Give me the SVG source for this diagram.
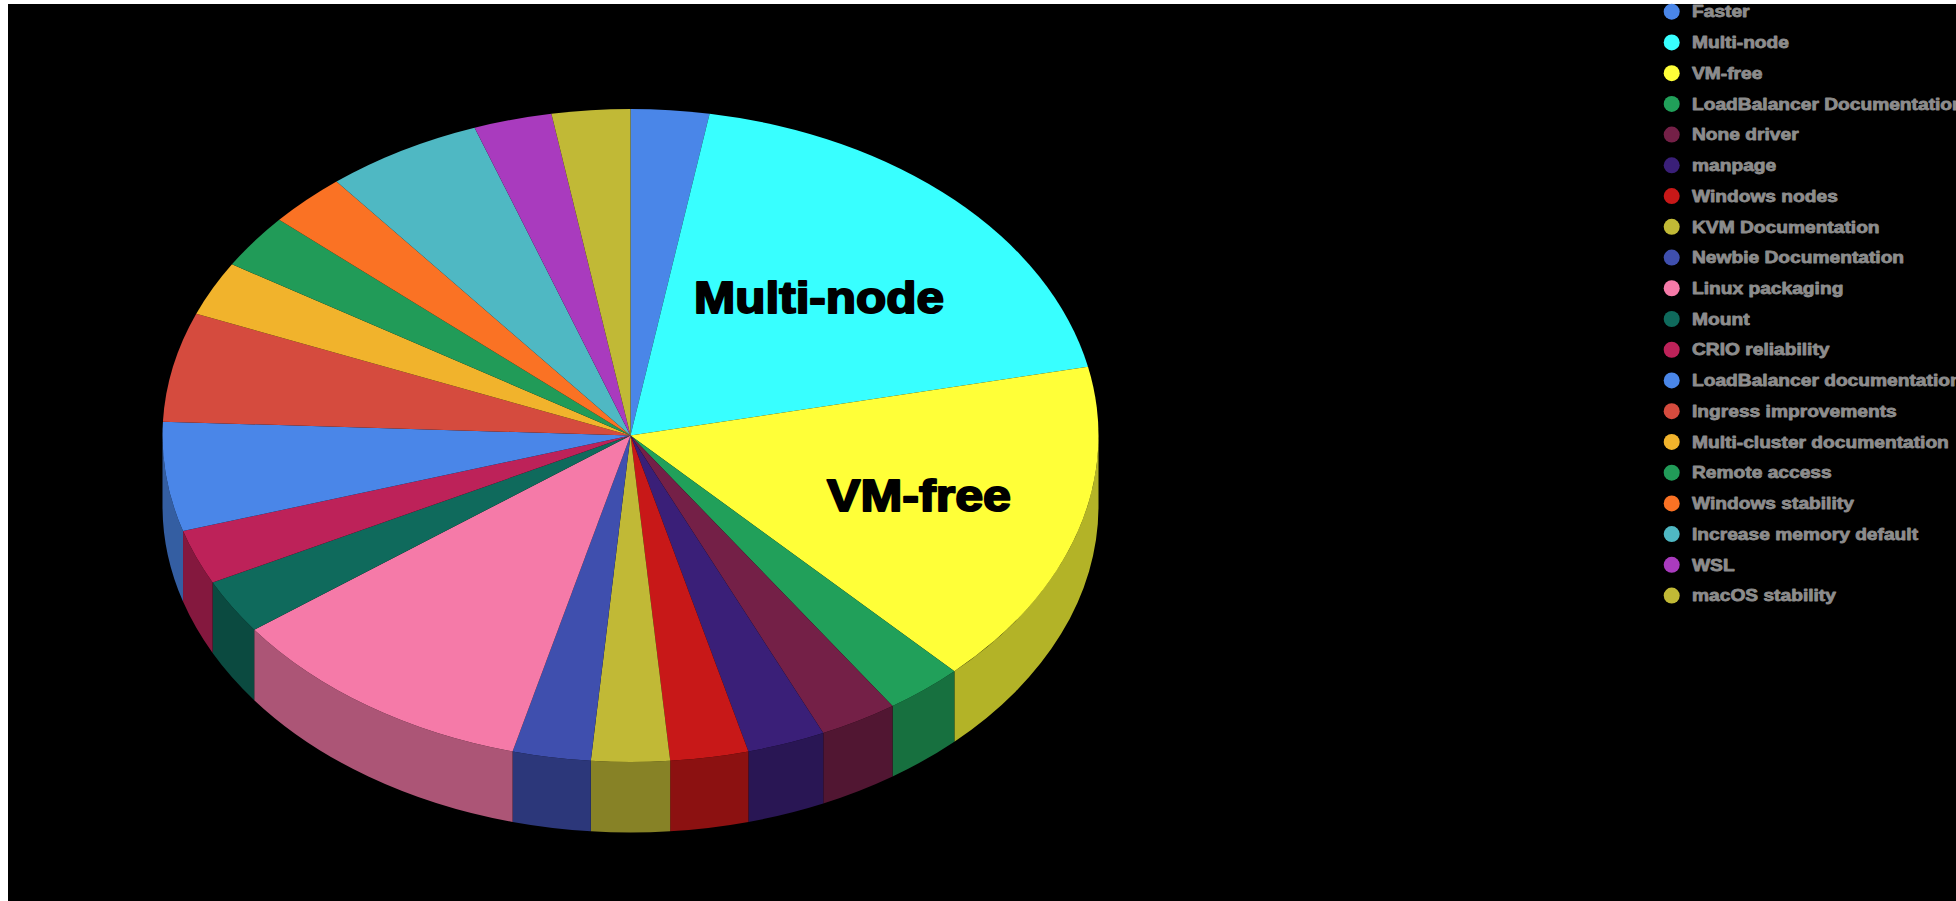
<svg xmlns="http://www.w3.org/2000/svg" width="1956" height="901" viewBox="0 0 1956 901">
<style>
.lbl{font-family:"Liberation Sans",Arial,sans-serif;font-weight:bold;font-size:45px;fill:#000;stroke:#000;stroke-width:2px;stroke-linejoin:round}
.leg{font-family:"Liberation Sans",Arial,sans-serif;font-weight:bold;font-size:16px;fill:#8c8c8c;stroke:#8c8c8c;stroke-width:0.8px;stroke-linejoin:round}
</style>
<rect x="0" y="0" width="1956" height="901" fill="#ffffff"/>
<rect x="8" y="4" width="1948" height="897" fill="#000000"/>
<g id="pie">
<g id="sides">
<path d="M1098.5,435.5 A468,326.5 0 0 1 954.38,671.19 L954.38,741.69 A468,326.5 0 0 0 1098.5,506 Z" fill="#b3b327"/>
<path d="M954.38,671.19 A468,326.5 0 0 1 892.57,706.01 L892.57,776.51 A468,326.5 0 0 0 954.38,741.69 Z" fill="#17703f"/>
<path d="M892.57,706.01 A468,326.5 0 0 1 823.28,733.02 L823.28,803.52 A468,326.5 0 0 0 892.57,776.51 Z" fill="#511632"/>
<path d="M823.28,733.02 A468,326.5 0 0 1 748.42,751.46 L748.42,821.96 A468,326.5 0 0 0 823.28,803.52 Z" fill="#291654"/>
<path d="M748.42,751.46 A468,326.5 0 0 1 670.19,760.82 L670.19,831.32 A468,326.5 0 0 0 748.42,821.96 Z" fill="#8c1111"/>
<path d="M670.19,760.82 A468,326.5 0 0 1 590.81,760.82 L590.81,831.32 A468,326.5 0 0 0 670.19,831.32 Z" fill="#878226"/>
<path d="M590.81,760.82 A468,326.5 0 0 1 512.58,751.46 L512.58,821.96 A468,326.5 0 0 0 590.81,831.32 Z" fill="#2c377a"/>
<path d="M512.58,751.46 A468,326.5 0 0 1 254.23,629.65 L254.23,700.15 A468,326.5 0 0 0 512.58,821.96 Z" fill="#ac5576"/>
<path d="M254.23,629.65 A468,326.5 0 0 1 212.61,582.49 L212.61,652.99 A468,326.5 0 0 0 254.23,700.15 Z" fill="#0b4a40"/>
<path d="M212.61,582.49 A468,326.5 0 0 1 183.01,531.11 L183.01,601.61 A468,326.5 0 0 0 212.61,652.99 Z" fill="#84183e"/>
<path d="M183.01,531.11 A468,326.5 0 0 1 162.5,435.5 L162.5,506 A468,326.5 0 0 0 183.01,601.61 Z" fill="#345ea2"/>
</g>
<g id="slice-faster"><path d="M630.5,435.5 L630.5,109 A468,326.5 0 0 1 709.59,113.70 Z" fill="#4a86e8"/></g>
<g id="slice-multinode"><path d="M630.5,435.5 L709.59,113.70 A468,326.5 0 0 1 1088.00,366.72 Z" fill="#38ffff"/></g>
<g id="slice-vmfree"><path d="M630.5,435.5 L1088.00,366.72 A468,326.5 0 0 1 954.38,671.19 Z" fill="#ffff38"/></g>
<g id="slice-lbdoc"><path d="M630.5,435.5 L954.38,671.19 A468,326.5 0 0 1 892.57,706.01 Z" fill="#21a05a"/></g>
<g id="slice-none"><path d="M630.5,435.5 L892.57,706.01 A468,326.5 0 0 1 823.28,733.02 Z" fill="#742047"/></g>
<g id="slice-manpage"><path d="M630.5,435.5 L823.28,733.02 A468,326.5 0 0 1 748.42,751.46 Z" fill="#3a1f78"/></g>
<g id="slice-winnodes"><path d="M630.5,435.5 L748.42,751.46 A468,326.5 0 0 1 670.19,760.82 Z" fill="#c81818"/></g>
<g id="slice-kvm"><path d="M630.5,435.5 L670.19,760.82 A468,326.5 0 0 1 590.81,760.82 Z" fill="#c1b936"/></g>
<g id="slice-newbie"><path d="M630.5,435.5 L590.81,760.82 A468,326.5 0 0 1 512.58,751.46 Z" fill="#3f4fae"/></g>
<g id="slice-linux"><path d="M630.5,435.5 L512.58,751.46 A468,326.5 0 0 1 254.23,629.65 Z" fill="#f57aa8"/></g>
<g id="slice-mount"><path d="M630.5,435.5 L254.23,629.65 A468,326.5 0 0 1 212.61,582.49 Z" fill="#0f6a5c"/></g>
<g id="slice-crio"><path d="M630.5,435.5 L212.61,582.49 A468,326.5 0 0 1 183.01,531.11 Z" fill="#bd2259"/></g>
<g id="slice-lbdoc2"><path d="M630.5,435.5 L183.01,531.11 A468,326.5 0 0 1 162.92,421.65 Z" fill="#4a86e8"/></g>
<g id="slice-ingress"><path d="M630.5,435.5 L162.92,421.65 A468,326.5 0 0 1 196.25,313.75 Z" fill="#d54b3e"/></g>
<g id="slice-multicluster"><path d="M630.5,435.5 L196.25,313.75 A468,326.5 0 0 1 231.98,264.31 Z" fill="#f1b32c"/></g>
<g id="slice-remote"><path d="M630.5,435.5 L231.98,264.31 A468,326.5 0 0 1 279.18,219.79 Z" fill="#219b58"/></g>
<g id="slice-winstab"><path d="M630.5,435.5 L279.18,219.79 A468,326.5 0 0 1 336.49,181.47 Z" fill="#fa7224"/></g>
<g id="slice-increase"><path d="M630.5,435.5 L336.49,181.47 A468,326.5 0 0 1 474.60,127.65 Z" fill="#4fb8c3"/></g>
<g id="slice-wsl"><path d="M630.5,435.5 L474.60,127.65 A468,326.5 0 0 1 551.41,113.70 Z" fill="#a93bbe"/></g>
<g id="slice-macos"><path d="M630.5,435.5 L551.41,113.70 A468,326.5 0 0 1 630.5,109 Z" fill="#c1b936"/></g>
<g id="labels">
<text class="lbl" x="694" y="312.5" textLength="250" lengthAdjust="spacingAndGlyphs">Multi-node</text>
<text class="lbl" x="827" y="511" textLength="184" lengthAdjust="spacingAndGlyphs">VM-free</text>
</g>
</g>
<g id="legend">
<g id="legend-dots">
<circle cx="1671.7" cy="11.7" r="8" fill="#4a86e8"/>
<circle cx="1671.7" cy="42.43" r="8" fill="#38ffff"/>
<circle cx="1671.7" cy="73.16" r="8" fill="#ffff38"/>
<circle cx="1671.7" cy="103.89" r="8" fill="#21a05a"/>
<circle cx="1671.7" cy="134.62" r="8" fill="#742047"/>
<circle cx="1671.7" cy="165.35" r="8" fill="#3a1f78"/>
<circle cx="1671.7" cy="196.08" r="8" fill="#c81818"/>
<circle cx="1671.7" cy="226.81" r="8" fill="#c1b936"/>
<circle cx="1671.7" cy="257.54" r="8" fill="#3f4fae"/>
<circle cx="1671.7" cy="288.27" r="8" fill="#f57aa8"/>
<circle cx="1671.7" cy="319.0" r="8" fill="#0f6a5c"/>
<circle cx="1671.7" cy="349.73" r="8" fill="#bd2259"/>
<circle cx="1671.7" cy="380.46" r="8" fill="#4a86e8"/>
<circle cx="1671.7" cy="411.19" r="8" fill="#d54b3e"/>
<circle cx="1671.7" cy="441.92" r="8" fill="#f1b32c"/>
<circle cx="1671.7" cy="472.65" r="8" fill="#219b58"/>
<circle cx="1671.7" cy="503.38" r="8" fill="#fa7224"/>
<circle cx="1671.7" cy="534.11" r="8" fill="#4fb8c3"/>
<circle cx="1671.7" cy="564.84" r="8" fill="#a93bbe"/>
<circle cx="1671.7" cy="595.57" r="8" fill="#c1b936"/>
</g>
<g id="legend-text" transform="translate(1692,0) scale(1.2,1)">
<text class="leg" x="0" y="17.4">Faster</text>
<text class="leg" x="0" y="48.13">Multi-node</text>
<text class="leg" x="0" y="78.86">VM-free</text>
<text class="leg" x="0" y="109.59">LoadBalancer Documentation</text>
<text class="leg" x="0" y="140.32">None driver</text>
<text class="leg" x="0" y="171.05">manpage</text>
<text class="leg" x="0" y="201.78">Windows nodes</text>
<text class="leg" x="0" y="232.51">KVM Documentation</text>
<text class="leg" x="0" y="263.24">Newbie Documentation</text>
<text class="leg" x="0" y="293.97">Linux packaging</text>
<text class="leg" x="0" y="324.7">Mount</text>
<text class="leg" x="0" y="355.43">CRIO reliability</text>
<text class="leg" x="0" y="386.16">LoadBalancer documentation</text>
<text class="leg" x="0" y="416.89">Ingress improvements</text>
<text class="leg" x="0" y="447.62">Multi-cluster documentation</text>
<text class="leg" x="0" y="478.35">Remote access</text>
<text class="leg" x="0" y="509.08">Windows stability</text>
<text class="leg" x="0" y="539.81">Increase memory default</text>
<text class="leg" x="0" y="570.54">WSL</text>
<text class="leg" x="0" y="601.27">macOS stability</text>
</g>
</g>
</svg>
